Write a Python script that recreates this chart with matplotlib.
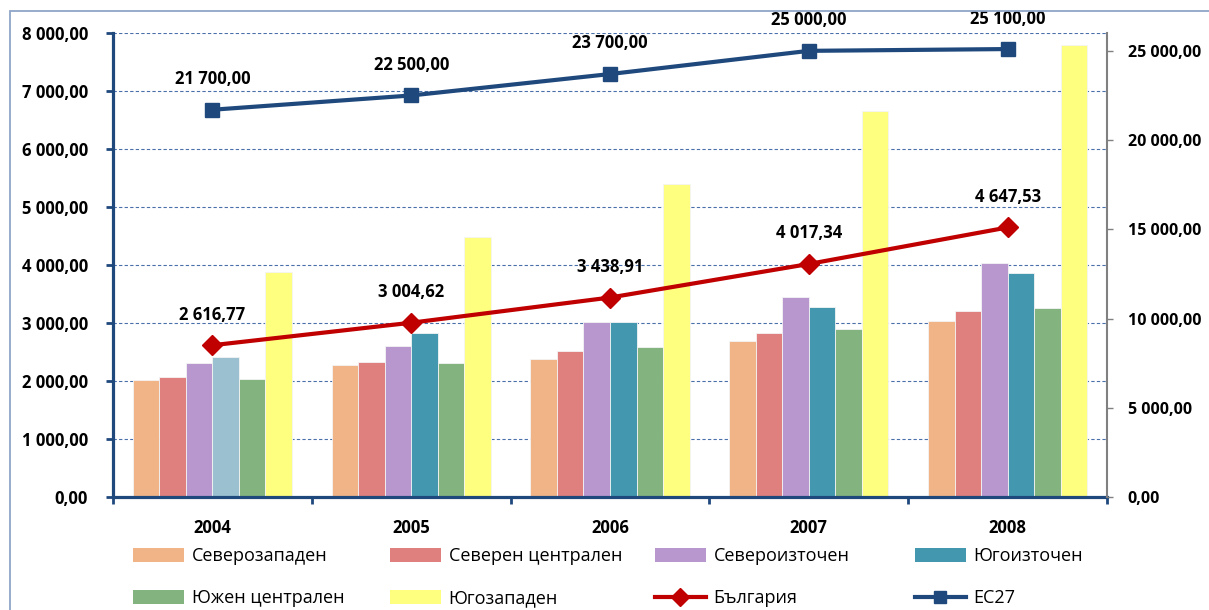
import numpy as np
import matplotlib.pyplot as plt
from matplotlib.patches import Patch, Rectangle
from matplotlib.lines import Line2D
from matplotlib.ticker import FuncFormatter, MultipleLocator

years = ['2004', '2005', '2006', '2007', '2008']
regions = ['Северозападен', 'Северен централен', 'Североизточен',
           'Югоизточен', 'Южен централен', 'Югозападен']
severozapaden = [2020, 2270, 2380, 2690, 3030]
severen_centr = [2070, 2335, 2525, 2835, 3205]
severoiztochen = [2310, 2612, 3025, 3440, 4030]
yugoiztochen = [2414, 2822, 3025, 3283, 3858]
yuzhen_centr = [2030, 2305, 2586, 2897, 3255]
yugozapaden = [3880, 4480, 5405, 6655, 7785]
bulgaria = [2616.77, 3004.62, 3438.91, 4017.34, 4647.53]
eu27 = [21700, 22500, 23700, 25000, 25100]

region_values = [severozapaden, severen_centr, severoiztochen,
                 yugoiztochen, yuzhen_centr, yugozapaden]
colors = ['#F0B486', '#DF7F7E', '#B897CE', '#4398B0', '#83B37E', '#FFFF7F']
red = '#C00000'
navy = '#1F497D'


def bg_fmt(v, pos=None):
    s = f'{v:,.2f}'
    return s.replace(',', ' ').replace('.', ',')


plt.rcParams['font.family'] = ['Open Sans', 'DejaVu Sans']

fig = plt.figure(figsize=(12.09, 6.10), dpi=100)
ax = fig.add_axes([113 / 1209, 1 - 497 / 610, (1107 - 113) / 1209, (497 - 33) / 610])
ax2 = ax.twinx()

x = np.arange(len(years))
group = 0.8
bw = group / len(regions)
for i, vals in enumerate(region_values):
    offs = -group / 2 + bw * (i + 0.5)
    cols = [colors[i]] * len(years)
    if i == 3:
        cols[0] = '#9BC1D0'  # 2004 bar is lighter in the original
    ax.bar(x + offs, vals, bw, color=cols, edgecolor='#f4f4f4', linewidth=0.6, zorder=2)

ax.plot(x, bulgaria, color=red, lw=3, marker='D', ms=10, zorder=4)
for xi, v in zip(x, bulgaria):
    ax.annotate(bg_fmt(v), (xi, v), xytext=(0, 22), textcoords='offset points',
                ha='center', va='center', fontsize=12, fontweight='bold', zorder=5)

ax2.plot(x, eu27, color=navy, lw=3, marker='s', ms=10, zorder=4)
for xi, v in zip(x, eu27):
    ax2.annotate(bg_fmt(v), (xi, v), xytext=(0, 22), textcoords='offset points',
                 ha='center', va='center', fontsize=12, fontweight='bold')

ax.set_xlim(-0.5, len(years) - 0.5)
ax.set_ylim(0, 8000)
ax2.set_ylim(0, 26000)

ax.yaxis.set_major_locator(MultipleLocator(1000))
ax.yaxis.set_major_formatter(FuncFormatter(bg_fmt))
ax2.yaxis.set_major_locator(MultipleLocator(5000))
ax2.yaxis.set_major_formatter(FuncFormatter(bg_fmt))

ax.set_xticks(np.arange(len(years) + 1) - 0.5)
ax.set_xticklabels([])
ax.set_xticks(x, minor=True)
ax.set_xticklabels(years, minor=True)
ax.tick_params(axis='x', which='major', direction='out', length=5, width=2, color=navy)
ax.tick_params(axis='x', which='minor', length=0, pad=16, labelsize=12)
for t in ax.get_xticklabels(minor=True):
    t.set_fontweight('bold')

ax.tick_params(axis='y', direction='out', length=5, width=2, color=navy, pad=13, labelsize=12)
ax2.tick_params(axis='y', direction='out', length=4, width=1, color='#808080', pad=11, labelsize=11.5)
for t in ax.get_yticklabels() + ax2.get_yticklabels():
    t.set_fontweight('bold')

ax.grid(axis='y', color='#4A70AA', linestyle=(0, (3, 2)), linewidth=0.8, zorder=0)
ax.set_axisbelow(True)

for a in (ax, ax2):
    a.spines['top'].set_visible(False)
ax.spines['left'].set_color(navy)
ax.spines['left'].set_linewidth(2.3)
ax.spines['bottom'].set_color(navy)
ax.spines['bottom'].set_linewidth(2.3)
ax.spines['right'].set_visible(False)
ax2.spines['left'].set_visible(False)
ax2.spines['bottom'].set_visible(False)
ax2.spines['right'].set_color('#808080')
ax2.spines['right'].set_linewidth(1.5)

# legend, built as four columns so the column starts match the original
handles = [Patch(facecolor=c, edgecolor='none') for c in colors]
handles += [Line2D([], [], color=red, lw=3, marker='D', ms=9),
            Line2D([], [], color=navy, lw=3, marker='s', ms=9)]
labels = regions + ['България', 'ЕС27']
col_x = [133, 390, 655, 915]
order = [(0, 4), (1, 5), (2, 6), (3, 7)]
for cx, (a, b) in zip(col_x, order):
    fig.legend([handles[a], handles[b]], [labels[a], labels[b]],
               loc='upper left', bbox_to_anchor=(cx / 1209, 1 - 547 / 610),
               frameon=False, fontsize=13, handlelength=2.8, handleheight=0.83,
               handletextpad=0.45, labelspacing=1.35, borderpad=0, borderaxespad=0)

# outer chart frame (right and bottom edges fall outside the image)
fig.patches.append(Rectangle((10 / 1209, -0.05), 1.05, 1.05 - 11 / 610,
                             transform=fig.transFigure, fill=False,
                             edgecolor='#8FA5C8', linewidth=1.3))

fig.savefig('out.png', dpi=100)
